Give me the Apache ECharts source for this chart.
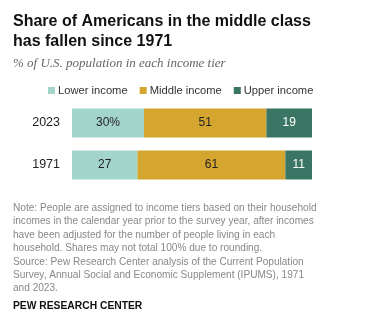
<!DOCTYPE html>
<html>
<head>
<meta charset="utf-8">
<script src="https://cdn.jsdelivr.net/npm/echarts@6/dist/echarts.min.js"></script>
<style>
html,body{margin:0;padding:0;background:#fff;}
#c{width:373px;height:322px;}
</style>
</head>
<body>
<div id="c"></div>
<script>
const years = ['2023', '1971'];
const tierNames = ['Lower income', 'Middle income', 'Upper income'];
const lower = [30, 27];
const middle = [51, 61];
const upper = [19, 11];
const tierColors = ['#a4d5cc', '#d4a62f', '#3b7664'];
const labelColors = ['#222', '#222', '#fff'];
const titleLines = ['Share of Americans in the middle class', 'has fallen since 1971'];
const subtitle = '% of U.S. population in each income tier';
const noteLines = [
  'Note: People are assigned to income tiers based on their household',
  'incomes in the calendar year prior to the survey year, after incomes',
  'have been adjusted for the number of people living in each',
  'household. Shares may not total 100% due to rounding.',
  'Source: Pew Research Center analysis of the Current Population',
  'Survey, Annual Social and Economic Supplement (IPUMS), 1971',
  'and 2023.'
];
const sourceName = 'PEW RESEARCH CENTER';

const tiers = [lower, middle, upper];
const totals = years.map((y, i) => tiers.reduce((s, t) => s + t[i], 0));
const SANS = 'Liberation Sans, Arial, sans-serif';

const chart = echarts.init(document.getElementById('c'), null, {renderer: 'canvas'});
const series = tiers.map((t, k) => ({
  name: tierNames[k],
  type: 'bar',
  stack: 'all',
  barWidth: 29,
  itemStyle: {color: tierColors[k]},
  label: {
    show: true,
    position: 'inside',
    color: labelColors[k],
    fontFamily: SANS,
    fontSize: 12,
    formatter: p => (k === 0 && p.dataIndex === 0) ? t[p.dataIndex] + '%' : String(t[p.dataIndex])
  },
  data: t.map((v, i) => v / totals[i] * 100)
}));

chart.setOption({
  animation: false,
  title: [
    {text: titleLines.join('\n'), left: 13, top: 11, padding: 0,
     textStyle: {fontFamily: SANS, fontWeight: 'bold', fontSize: 16, lineHeight: 20.5, color: '#111'}},
    {text: subtitle, left: 13, top: 57.5, padding: 0,
     textStyle: {fontFamily: 'Liberation Serif, serif', fontStyle: 'italic', fontWeight: 'normal', fontSize: 13, color: '#666'}},
    {text: noteLines.join('\n'), left: 13, top: 201.5, padding: 0,
     textStyle: {fontFamily: SANS, fontWeight: 'normal', fontSize: 10.1, lineHeight: 13.4, color: '#888'}},
    {text: sourceName, left: 13, top: 301.5, padding: 0,
     textStyle: {fontFamily: SANS, fontWeight: 'bold', fontSize: 10.3, color: '#111'}}
  ],
  legend: {
    top: 85, left: 48, padding: 0,
    itemWidth: 7, itemHeight: 7, itemGap: 12,
    icon: 'rect',
    textStyle: {fontFamily: SANS, fontSize: 11.2, color: '#333', padding: [0, 0, 0, -2]},
    data: tierNames
  },
  grid: {left: 72, width: 240, top: 102, height: 84, containLabel: false},
  xAxis: {type: 'value', min: 0, max: 100, show: false},
  yAxis: {
    type: 'category', data: years, inverse: true,
    axisLine: {show: false}, axisTick: {show: false},
    axisLabel: {fontFamily: SANS, fontSize: 12.5, color: '#222', margin: 12}
  },
  series: series
});
</script>
</body>
</html>
